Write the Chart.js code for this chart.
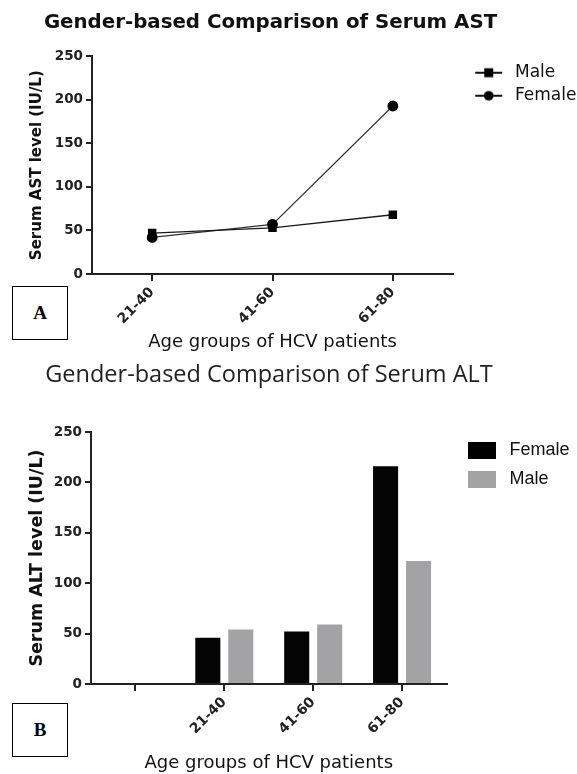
<!DOCTYPE html>
<html>
<head>
<meta charset="utf-8">
<script src="https://cdn.jsdelivr.net/npm/chart.js@4.4.1/dist/chart.umd.min.js"></script>
<style>
  html, body { margin: 0; padding: 0; background: #fff; }
  #wrap { position: relative; width: 577px; height: 774px; overflow: hidden; background: #fff; }
  #astChart, #altChart { position: absolute; }
  .tag { position: absolute; left: 12px; width: 54px; height: 52px; border: 1px solid #000; background: #fff;
         font-family: "Liberation Serif", serif; font-weight: bold; font-size: 19px; color: #000;
         display: flex; align-items: center; justify-content: center; }
</style>
</head>
<body>
<div id="wrap">
  <!-- 제목 중심을 맞추려고 캔버스를 왼쪽으로 조금 넓힘 -->
  <canvas id="astChart" width="613" height="355" style="top:0;left:-36px"></canvas>
  <canvas id="altChart" width="616" height="419" style="top:355px;left:-39px"></canvas>
  <div class="tag" style="top:286px">A</div>
  <div class="tag" style="top:703px">B</div>
</div>
<script>
// 데이터
const ageGroups = ['21-40', '41-60', '61-80'];
const astMale = [47, 53, 68];
const astFemale = [42, 57, 193];

const altGroups = ['', '21-40', '41-60', '61-80'];
const altFemale = [null, 46, 52, 216];
const altMale = [null, 54, 59, 122];

const axisColor = '#222';
const yTickFont = { family: 'DejaVu Sans', size: 13.5, weight: 'bold' };
const xTickFont = { family: 'DejaVu Sans', size: 14, weight: 'bold' };

// 범례 아이콘 (선 + 마커)
function lineIcon(shape) {
  const c = document.createElement('canvas');
  c.width = 47; c.height = 12;
  const g = c.getContext('2d');
  g.strokeStyle = '#111';
  g.lineWidth = 2;
  g.beginPath(); g.moveTo(16, 6); g.lineTo(43, 6); g.stroke();
  g.fillStyle = '#000';
  if (shape === 'rect') {
    g.fillRect(25, 1.5, 9, 9);
  } else {
    g.beginPath(); g.arc(29.5, 6, 4.8, 0, Math.PI * 2); g.fill();
  }
  return c;
}

function boxIcon(color) {
  const c = document.createElement('canvas');
  c.width = 50; c.height = 17;
  const g = c.getContext('2d');
  g.fillStyle = color;
  g.fillRect(14, 0, 28, 17);
  return c;
}

// 그래프 A
const astIcons = [lineIcon('rect'), lineIcon('circle')];
new Chart(document.getElementById('astChart'), {
  type: 'line',
  data: {
    labels: ageGroups,
    datasets: [{
      label: 'Male',
      data: astMale,
      borderColor: '#1a1a1a',
      borderWidth: 1.4,
      pointStyle: 'rect',
      pointRadius: 5,
      pointBackgroundColor: '#000',
      pointBorderColor: '#000',
      tension: 0
    }, {
      label: 'Female',
      data: astFemale,
      borderColor: '#333',
      borderWidth: 1.2,
      pointStyle: 'circle',
      pointRadius: 4.8,
      pointBackgroundColor: '#000',
      pointBorderColor: '#000',
      tension: 0
    }]
  },
  options: {
    responsive: false,
    animation: false,
    layout: { padding: 0 },
    plugins: {
      title: {
        display: true,
        text: 'Gender-based Comparison of Serum AST',
        color: '#111',
        font: { family: 'DejaVu Sans', size: 19.8, weight: 'bold' },
        padding: { top: 11.3, bottom: 21.3 }
      },
      legend: {
        position: 'right',
        align: 'start',
        maxWidth: 124,
        title: { display: true, text: ' ', font: { size: 1 }, padding: { top: 57, bottom: 0 } },
        labels: {
          usePointStyle: true,
          pointStyleWidth: 47.5,
          padding: 6,
          color: '#111',
          font: { family: 'DejaVu Sans', size: 17 },
          generateLabels: (chart) => chart.data.datasets.map((ds, i) => ({
            text: ds.label,
            pointStyle: astIcons[i],
            fillStyle: '#000',
            strokeStyle: '#000',
            fontColor: '#111',
            lineWidth: 0,
            hidden: false,
            datasetIndex: i
          }))
        }
      },
      tooltip: { enabled: false }
    },
    scales: {
      x: {
        offset: true,
        afterFit: (scale) => { scale.height = 81; },
        grid: { display: true, drawOnChartArea: false, drawTicks: true, tickLength: 7, color: axisColor, lineWidth: 2 },
        border: { color: axisColor, width: 2 },
        ticks: { color: axisColor, font: xTickFont, minRotation: 45, maxRotation: 45, padding: 3 },
        title: {
          display: true,
          text: 'Age groups of HCV patients',
          color: '#111',
          font: { family: 'DejaVu Sans', size: 18 },
          padding: { top: 0, bottom: 2 }
        }
      },
      y: {
        min: 0,
        max: 250,
        afterFit: (scale) => { scale.width = 128; },
        grid: { display: true, drawOnChartArea: false, drawTicks: true, tickLength: 6, color: axisColor, lineWidth: 2 },
        border: { color: axisColor, width: 2 },
        ticks: { stepSize: 50, color: axisColor, font: yTickFont, padding: 3 },
        title: {
          display: true,
          text: 'Serum AST level (IU/L)',
          color: '#111',
          font: { family: 'DejaVu Sans', size: 15, weight: 'bold' },
          padding: { top: 64, bottom: 0 }
        }
      }
    }
  }
});

// 그래프 B
const altIcons = [boxIcon('#000'), boxIcon('#a3a3a6')];
new Chart(document.getElementById('altChart'), {
  type: 'bar',
  data: {
    labels: altGroups,
    datasets: [{
      label: 'Female',
      data: altFemale,
      backgroundColor: '#050505',
      categoryPercentage: 0.742,
      barPercentage: 0.76
    }, {
      label: 'Male',
      data: altMale,
      backgroundColor: '#a3a3a6',
      categoryPercentage: 0.742,
      barPercentage: 0.76
    }]
  },
  options: {
    responsive: false,
    animation: false,
    layout: { padding: 0 },
    plugins: {
      title: {
        display: true,
        text: 'Gender-based Comparison of Serum ALT',
        color: '#222',
        font: { family: 'Open Sans', size: 23.5, weight: 'normal' },
        padding: { top: 5.9, bottom: 42.9 }
      },
      legend: {
        position: 'right',
        align: 'start',
        maxWidth: 130.5,
        title: { display: true, text: ' ', font: { size: 1 }, padding: { top: 74, bottom: 0 } },
        labels: {
          usePointStyle: true,
          pointStyleWidth: 43,
          padding: 11,
          color: '#111',
          font: { family: 'Liberation Sans', size: 18 },
          generateLabels: (chart) => chart.data.datasets.map((ds, i) => ({
            text: ds.label,
            pointStyle: altIcons[i],
            fillStyle: ds.backgroundColor,
            strokeStyle: ds.backgroundColor,
            fontColor: '#111',
            lineWidth: 0,
            hidden: false,
            datasetIndex: i
          }))
        }
      },
      tooltip: { enabled: false }
    },
    scales: {
      x: {
        afterFit: (scale) => { scale.height = 90; },
        grid: { display: true, drawOnChartArea: false, drawTicks: true, tickLength: 7, color: axisColor, lineWidth: 2, offset: false },
        border: { color: axisColor, width: 2 },
        ticks: { color: axisColor, font: xTickFont, minRotation: 45, maxRotation: 45, padding: 3 },
        title: {
          display: true,
          text: 'Age groups of HCV patients',
          color: '#111',
          font: { family: 'DejaVu Sans', size: 18 },
          padding: { top: 0, bottom: 0 }
        }
      },
      y: {
        min: 0,
        max: 250,
        afterFit: (scale) => { scale.width = 130; },
        grid: { display: true, drawOnChartArea: false, drawTicks: true, tickLength: 6, color: axisColor, lineWidth: 2 },
        border: { color: axisColor, width: 2 },
        ticks: { stepSize: 50, color: axisColor, font: yTickFont, padding: 3 },
        title: {
          display: true,
          text: 'Serum ALT level (IU/L)',
          color: '#111',
          font: { family: 'DejaVu Sans', size: 17.5, weight: 'bold' },
          padding: { top: 66, bottom: 0 }
        }
      }
    }
  }
});
</script>
</body>
</html>
